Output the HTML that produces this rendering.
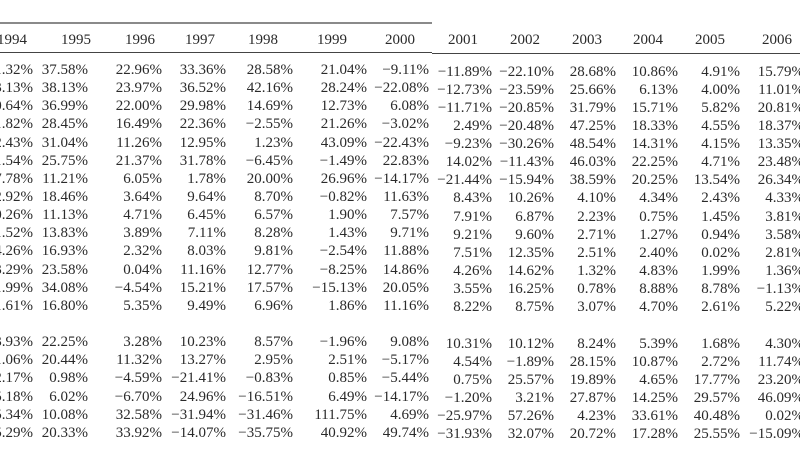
<!DOCTYPE html>
<html><head><meta charset="utf-8"><style>
body{margin:0;width:800px;height:450px;overflow:hidden;background:#fff;position:relative;font-family:"Liberation Serif",serif;font-size:15px;color:#2a2a2a}
.col{position:absolute;width:120px;text-align:right;line-height:18.15px;white-space:nowrap}
.col div{height:18.15px}
.h{position:absolute;top:31px;width:60px;text-align:center;line-height:18px}
.line{position:absolute;left:0}
</style></head><body>
<div class="line" style="top:22px;width:432px;height:2px;background:#8a8a8a"></div>
<div class="line" style="top:52px;width:432px;height:1px;background:#444"></div>
<div class="line" style="left:432px;top:53px;width:368px;height:1px;background:#444"></div>

<div class="h" style="left:-18px">1994</div>
<div class="h" style="left:46px">1995</div>
<div class="h" style="left:110px">1996</div>
<div class="h" style="left:170px">1997</div>
<div class="h" style="left:233px">1998</div>
<div class="h" style="left:302px">1999</div>
<div class="h" style="left:370px">2000</div>
<div class="h" style="left:433px">2001</div>
<div class="h" style="left:495px">2002</div>
<div class="h" style="left:557px">2003</div>
<div class="h" style="left:618px">2004</div>
<div class="h" style="left:680px">2005</div>
<div class="h" style="left:747px">2006</div>

<div class="col" style="left:-87px;top:61px"><div>1.32%</div><div>3.13%</div><div>0.64%</div><div>1.82%</div><div>2.43%</div><div>1.54%</div><div>7.78%</div><div>2.92%</div><div>0.26%</div><div>1.52%</div><div>4.26%</div><div>3.29%</div><div>1.99%</div><div>1.61%</div><div></div><div>3.93%</div><div>1.06%</div><div>2.17%</div><div>5.18%</div><div>5.34%</div><div>5.29%</div></div>
<div class="col" style="left:-32px;top:61px"><div>37.58%</div><div>38.13%</div><div>36.99%</div><div>28.45%</div><div>31.04%</div><div>25.75%</div><div>11.21%</div><div>18.46%</div><div>11.13%</div><div>13.83%</div><div>16.93%</div><div>23.58%</div><div>34.08%</div><div>16.80%</div><div></div><div>22.25%</div><div>20.44%</div><div>0.98%</div><div>6.02%</div><div>10.08%</div><div>20.33%</div></div>
<div class="col" style="left:42px;top:61px"><div>22.96%</div><div>23.97%</div><div>22.00%</div><div>16.49%</div><div>11.26%</div><div>21.37%</div><div>6.05%</div><div>3.64%</div><div>4.71%</div><div>3.89%</div><div>2.32%</div><div>0.04%</div><div>−4.54%</div><div>5.35%</div><div></div><div>3.28%</div><div>11.32%</div><div>−4.59%</div><div>−6.70%</div><div>32.58%</div><div>33.92%</div></div>
<div class="col" style="left:106px;top:61px"><div>33.36%</div><div>36.52%</div><div>29.98%</div><div>22.36%</div><div>12.95%</div><div>31.78%</div><div>1.78%</div><div>9.64%</div><div>6.45%</div><div>7.11%</div><div>8.03%</div><div>11.16%</div><div>15.21%</div><div>9.49%</div><div></div><div>10.23%</div><div>13.27%</div><div>−21.41%</div><div>24.96%</div><div>−31.94%</div><div>−14.07%</div></div>
<div class="col" style="left:173px;top:61px"><div>28.58%</div><div>42.16%</div><div>14.69%</div><div>−2.55%</div><div>1.23%</div><div>−6.45%</div><div>20.00%</div><div>8.70%</div><div>6.57%</div><div>8.28%</div><div>9.81%</div><div>12.77%</div><div>17.57%</div><div>6.96%</div><div></div><div>8.57%</div><div>2.95%</div><div>−0.83%</div><div>−16.51%</div><div>−31.46%</div><div>−35.75%</div></div>
<div class="col" style="left:247px;top:61px"><div>21.04%</div><div>28.24%</div><div>12.73%</div><div>21.26%</div><div>43.09%</div><div>−1.49%</div><div>26.96%</div><div>−0.82%</div><div>1.90%</div><div>1.43%</div><div>−2.54%</div><div>−8.25%</div><div>−15.13%</div><div>1.86%</div><div></div><div>−1.96%</div><div>2.51%</div><div>0.85%</div><div>6.49%</div><div>111.75%</div><div>40.92%</div></div>
<div class="col" style="left:309px;top:61px"><div>−9.11%</div><div>−22.08%</div><div>6.08%</div><div>−3.02%</div><div>−22.43%</div><div>22.83%</div><div>−14.17%</div><div>11.63%</div><div>7.57%</div><div>9.71%</div><div>11.88%</div><div>14.86%</div><div>20.05%</div><div>11.16%</div><div></div><div>9.08%</div><div>−5.17%</div><div>−5.44%</div><div>−14.17%</div><div>4.69%</div><div>49.74%</div></div>
<div class="col" style="left:372px;top:62.5px"><div>−11.89%</div><div>−12.73%</div><div>−11.71%</div><div>2.49%</div><div>−9.23%</div><div>14.02%</div><div>−21.44%</div><div>8.43%</div><div>7.91%</div><div>9.21%</div><div>7.51%</div><div>4.26%</div><div>3.55%</div><div>8.22%</div><div></div><div>10.31%</div><div>4.54%</div><div>0.75%</div><div>−1.20%</div><div>−25.97%</div><div>−31.93%</div></div>
<div class="col" style="left:434px;top:62.5px"><div>−22.10%</div><div>−23.59%</div><div>−20.85%</div><div>−20.48%</div><div>−30.26%</div><div>−11.43%</div><div>−15.94%</div><div>10.26%</div><div>6.87%</div><div>9.60%</div><div>12.35%</div><div>14.62%</div><div>16.25%</div><div>8.75%</div><div></div><div>10.12%</div><div>−1.89%</div><div>25.57%</div><div>3.21%</div><div>57.26%</div><div>32.07%</div></div>
<div class="col" style="left:496px;top:62.5px"><div>28.68%</div><div>25.66%</div><div>31.79%</div><div>47.25%</div><div>48.54%</div><div>46.03%</div><div>38.59%</div><div>4.10%</div><div>2.23%</div><div>2.71%</div><div>2.51%</div><div>1.32%</div><div>0.78%</div><div>3.07%</div><div></div><div>8.24%</div><div>28.15%</div><div>19.89%</div><div>27.87%</div><div>4.23%</div><div>20.72%</div></div>
<div class="col" style="left:558px;top:62.5px"><div>10.86%</div><div>6.13%</div><div>15.71%</div><div>18.33%</div><div>14.31%</div><div>22.25%</div><div>20.25%</div><div>4.34%</div><div>0.75%</div><div>1.27%</div><div>2.40%</div><div>4.83%</div><div>8.88%</div><div>4.70%</div><div></div><div>5.39%</div><div>10.87%</div><div>4.65%</div><div>14.25%</div><div>33.61%</div><div>17.28%</div></div>
<div class="col" style="left:620px;top:62.5px"><div>4.91%</div><div>4.00%</div><div>5.82%</div><div>4.55%</div><div>4.15%</div><div>4.71%</div><div>13.54%</div><div>2.43%</div><div>1.45%</div><div>0.94%</div><div>0.02%</div><div>1.99%</div><div>8.78%</div><div>2.61%</div><div></div><div>1.68%</div><div>2.72%</div><div>17.77%</div><div>29.57%</div><div>40.48%</div><div>25.55%</div></div>
<div class="col" style="left:684px;top:62.5px"><div>15.79%</div><div>11.01%</div><div>20.81%</div><div>18.37%</div><div>13.35%</div><div>23.48%</div><div>26.34%</div><div>4.33%</div><div>3.81%</div><div>3.58%</div><div>2.81%</div><div>1.36%</div><div>−1.13%</div><div>5.22%</div><div></div><div>4.30%</div><div>11.74%</div><div>23.20%</div><div>46.09%</div><div>0.02%</div><div>−15.09%</div></div>
</body></html>
